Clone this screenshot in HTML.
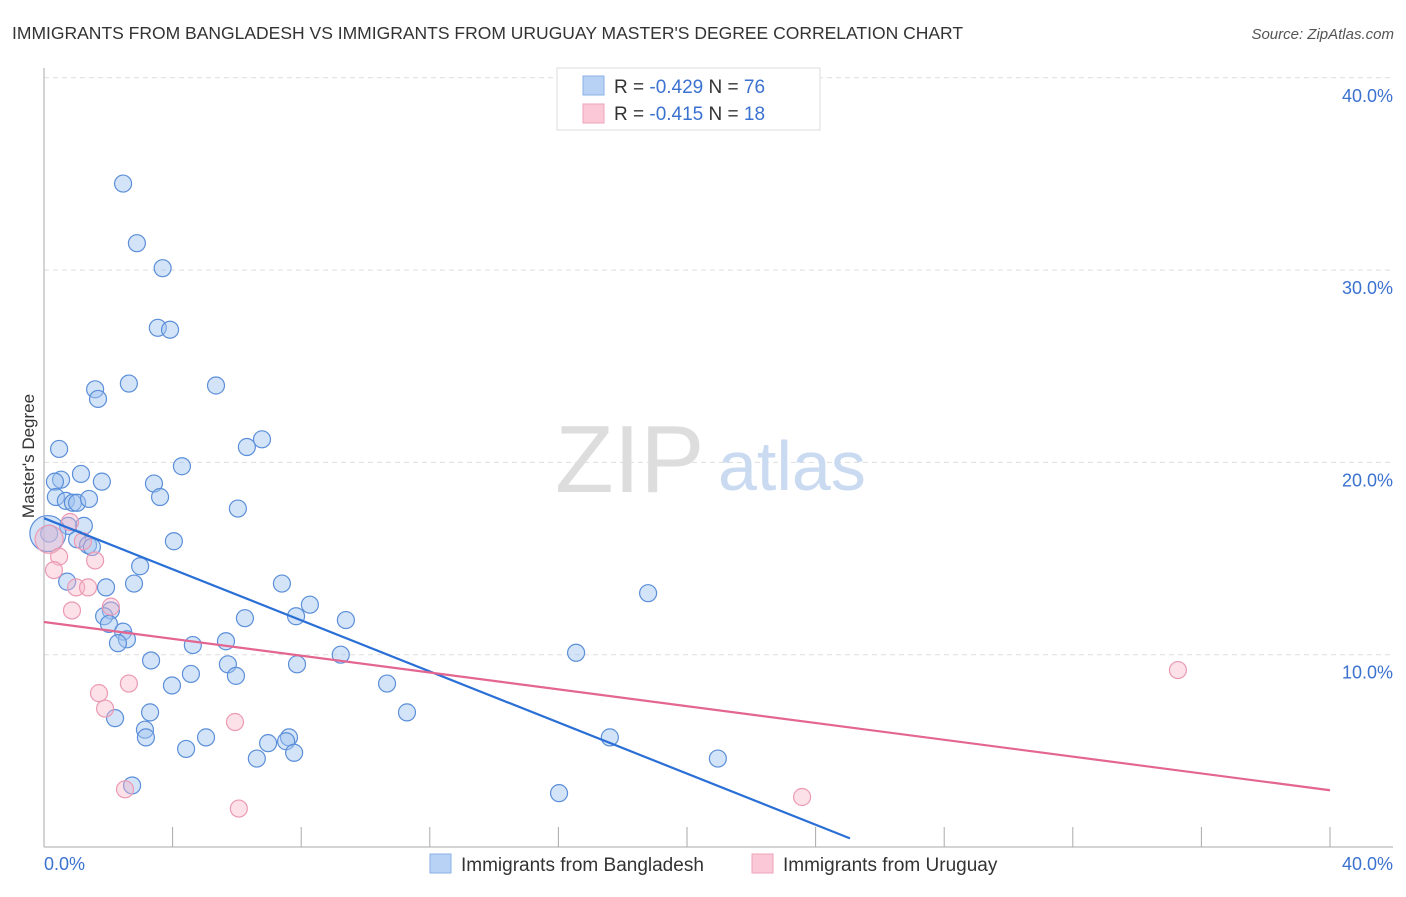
<!DOCTYPE html>
<html><head><meta charset="utf-8"><style>
body{margin:0;background:#fff;font-family:"Liberation Sans",sans-serif}
svg text{font-family:"Liberation Sans",sans-serif}
</style></head><body>
<svg width="1406" height="892" viewBox="0 0 1406 892" xmlns="http://www.w3.org/2000/svg">
<text x="12" y="39" font-size="17.5" fill="#333">IMMIGRANTS FROM BANGLADESH VS IMMIGRANTS FROM URUGUAY MASTER'S DEGREE CORRELATION CHART</text>
<text x="1394" y="39" font-size="15" fill="#555" font-style="italic" text-anchor="end">Source: ZipAtlas.com</text>
<g id="grid"></g>
<g id="axes"></g>
<text x="555" y="492" font-size="96" fill="#ddd" font-family="Liberation Serif">ZIP</text>
<text x="718" y="490" font-size="70" fill="#c9daf1">atlas</text>
<g id="pts"></g>
<g id="lines"></g>
<text transform="translate(34,456) rotate(-90)" font-size="17" fill="#333" text-anchor="middle">Master's Degree</text>
<g>
<rect x="557" y="68" width="263" height="62" fill="#fff" stroke="#ddd"/>
<rect x="583" y="76" width="21" height="19" fill="#b8d2f5" stroke="#8ab0e6"/>
<rect x="583" y="104" width="21" height="19" fill="#fac8d6" stroke="#eea3b9"/>
<text x="614" y="93" font-size="19" fill="#333">R = <tspan fill="#3b72d0">-0.429</tspan>    N = <tspan fill="#3b72d0">76</tspan></text>
<text x="614" y="120" font-size="19" fill="#333">R =  <tspan fill="#3b72d0">-0.415</tspan>    N =  <tspan fill="#3b72d0">18</tspan></text>
</g>
<g>
<rect x="430" y="854" width="21" height="19" fill="#b8d2f5" stroke="#8ab0e6"/>
<text x="461" y="871" font-size="19" fill="#333">Immigrants from Bangladesh</text>
<rect x="752" y="854" width="21" height="19" fill="#fac8d6" stroke="#eea3b9"/>
<text x="783" y="871" font-size="19" fill="#333">Immigrants from Uruguay</text>
</g>
</svg>
<script>
const blueX=[2.46,2.89,3.69,3.54,3.92,1.59,2.64,1.68,5.35,0.47,6.78,6.31,4.29,1.15,0.53,0.34,1.8,3.42,0.37,0.68,0.9,1.03,1.4,3.61,6.03,1.24,0.75,1.03,1.37,1.49,0.16,4.04,2.99,0.72,1.93,2.8,7.4,8.27,7.84,2.08,1.87,2.02,9.39,6.25,2.46,2.58,2.3,4.63,5.66,3.33,7.87,5.72,9.23,16.55,4.57,5.97,3.98,10.67,11.29,3.3,2.21,3.14,3.17,5.04,4.42,6.97,7.62,7.53,7.78,6.62,17.6,20.96,2.74,16.02,18.79,0.12];
const blueY=[34.5,31.4,30.1,27,26.9,23.8,24.1,23.3,24,20.7,21.2,20.8,19.8,19.4,19.1,19,19,18.9,18.2,18,17.9,17.9,18.1,18.2,17.6,16.7,16.7,16,15.7,15.6,16.3,15.9,14.6,13.8,13.5,13.7,13.7,12.6,12,12.3,12,11.6,11.8,11.9,11.2,10.8,10.6,10.5,10.7,9.7,9.5,9.5,10,10.1,9,8.9,8.4,8.5,7,7,6.7,6.1,5.7,5.7,5.1,5.4,5.7,5.5,4.9,4.6,5.7,4.6,3.2,2.8,13.2,16.3];
const pinkX=[0.16,0.81,1.21,0.47,0.31,1.59,1.00,1.37,0.87,2.08,1.71,1.9,2.64,5.94,2.52,6.06,23.58,35.27];
const pinkY=[16,16.9,15.9,15.1,14.4,14.9,13.5,13.5,12.3,12.5,8,7.2,8.5,6.5,3,2,2.6,9.2];
const yTicks=[10,20,30,40];
const tickLabels=["10.0%","20.0%","30.0%","40.0%"];
const blueTrend=[0,17.1,25.07,0.45];
const pinkTrend=[0,11.7,40,2.95];
const X=v=>44+v/40*1286, Y=v=>847-v/10*192.3;
const NS="http://www.w3.org/2000/svg";
function mk(p,t,a){const e=document.createElementNS(NS,t);for(const k in a)e.setAttribute(k,a[k]);document.getElementById(p).appendChild(e);return e;}
yTicks.forEach((t,i)=>{
 const l=mk('grid','line',{x1:44,x2:1393,y1:Y(t),y2:Y(t),stroke:'#ddd','stroke-dasharray':'5,4'});
 
 
 const tx=mk('grid','text',{x:1393,y:Y(t)+24,'font-size':18,fill:'#3b72d0','text-anchor':'end'});
 tx.textContent=tickLabels[i];
 
 
});
const ax=mk('axes','line',{x1:44,x2:44,y1:68,y2:847,stroke:'#aaa'});


const bx=mk('axes','line',{x1:44,x2:1393,y1:847,y2:847,stroke:'#aaa'});


for(let i=0;i<=10;i++){const tk=mk('axes','line',{x1:44+i*128.6,x2:44+i*128.6,y1:827,y2:847,stroke:'#aaa'});
 
 }
const x0=mk('axes','text',{x:44,y:870,'font-size':18,fill:'#3b72d0'});x0.textContent='0.0%';


const x1=mk('axes','text',{x:1393,y:870,'font-size':18,fill:'#3b72d0','text-anchor':'end'});x1.textContent='40.0%';


blueX.forEach((v,i)=>{const r=i==blueX.length-1?18:8.5;
 const c=mk('pts','circle',{cx:X(v),cy:Y(blueY[i]),r:r,fill:'rgba(160,195,240,0.45)',stroke:'#5b8fd9','stroke-width':1.2});
 
 });
pinkX.forEach((v,i)=>{const r=i==0?14:8.5;
 const c=mk('pts','circle',{cx:X(v),cy:Y(pinkY[i]),r:r,fill:'rgba(248,180,200,0.4)',stroke:'#ec9ab3','stroke-width':1.2});
 
 });
const bl=mk('lines','line',{x1:X(blueTrend[0]),y1:Y(blueTrend[1]),x2:X(blueTrend[2]),y2:Y(blueTrend[3]),stroke:'#2a6fd6','stroke-width':2.2});


const pl=mk('lines','line',{x1:X(pinkTrend[0]),y1:Y(pinkTrend[1]),x2:X(pinkTrend[2]),y2:Y(pinkTrend[3]),stroke:'#e36590','stroke-width':2.2});


</script>
</body></html>
